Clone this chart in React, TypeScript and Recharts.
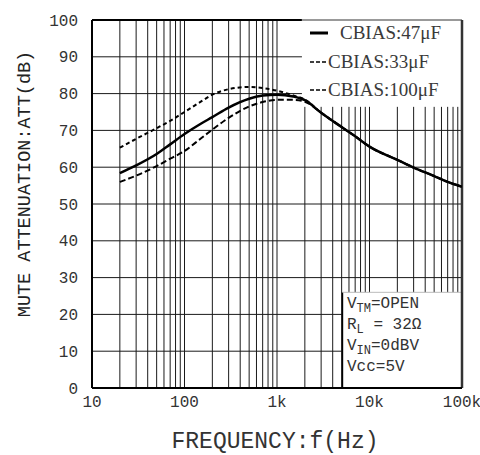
import React from 'react';
import { LineChart, Line, XAxis, YAxis, ReferenceLine } from 'recharts';

// frequency points (Hz)
const freqHz = [
  20, 30, 50, 70, 100, 150, 200, 300, 500, 700, 1000, 1500, 2000, 3000, 5000, 7000, 10000,
  20000, 30000, 50000, 70000, 100000,
];

// mute attenuation (dB) per bias capacitor
const att47 = [
  58.4, 60.5, 63.6, 66.2, 69, 71.8, 73.6, 76.2, 78.6, 79.5, 79.7, 79.2, 78.2, 74.8, 70.9, 68.4,
  65.6, 62, 59.9, 57.6, 56, 54.7,
];
const att33 = [
  56, 57.7, 60.3, 62.3, 64.4, 67.8, 70.2, 73.4, 76.5, 77.7, 78.3, 78.3, 77.8, 74.8, 70.9, 68.4,
  65.6, 62, 59.9, 57.6, 56, 54.7,
];
const att100 = [
  65.3, 67.7, 70.6, 72.6, 75, 77.8, 79.7, 81.2, 81.8, 81.5, 80.8, 79.5, 78.4, 74.8, 70.9, 68.4,
  65.6, 62, 59.9, 57.6, 56, 54.7,
];

const xTicks = [10, 100, 1000, 10000, 100000];
const xTickLabels = ['10', '100', '1k', '10k', '100k'];
const yTicks = [0, 10, 20, 30, 40, 50, 60, 70, 80, 90, 100];
const gridMultipliers = [1, 2, 3, 4, 5, 6, 7, 8, 9];
const gridDecades = [10, 100, 1000, 10000];

const toPoints = (vals: number[]) => freqHz.map((f, i) => ({ f, att: vals[i] }));

const series = [
  { name: 'CBIAS:47μF', data: toPoints(att47), dash: undefined, width: 2.5 },
  { name: 'CBIAS:33μF', data: toPoints(att33), dash: '6 3', width: 2 },
  { name: 'CBIAS:100μF', data: toPoints(att100), dash: '4 3', width: 2 },
];

const mono = '"Liberation Mono", "DejaVu Sans Mono", monospace';
const serif = '"Liberation Serif", "DejaVu Serif", serif';

// grid is blanked under the legend (top right) and the conditions box (bottom right)
const legendBox = { fMin: 1860, yMin: 76.4 };
const condBox = { fMin: 5100, yMax: 26 };

const vGrid = gridDecades.flatMap((d) => gridMultipliers.map((m) => d * m)).filter((v) => v > 10);

const vSegment = (f: number) => {
  const top = f > legendBox.fMin ? legendBox.yMin : 100;
  const bottom = f > condBox.fMin ? condBox.yMax : 0;
  return [
    { x: f, y: bottom },
    { x: f, y: top },
  ];
};
const hSegment = (y: number) => {
  let right = 100000;
  if (y > legendBox.yMin) right = legendBox.fMin;
  if (y < condBox.yMax) right = condBox.fMin;
  return [
    { x: 10, y },
    { x: right, y },
  ];
};

const Sub = ({ children }: { children: React.ReactNode }) => (
  <span style={{ fontSize: 12, position: 'relative', top: 4 }}>{children}</span>
);

export default function App() {
  const labelFor = (v: number) => xTickLabels[xTicks.indexOf(v)] ?? '';

  return (
    <div style={{ position: 'absolute', left: 0, top: 0, width: 480, height: 455, background: '#fff' }}>
      <LineChart width={480} height={455} margin={{ top: 20, right: 18, left: 0, bottom: 37 }}>
        <XAxis
          dataKey="f"
          type="number"
          scale="log"
          domain={[10, 100000]}
          ticks={xTicks}
          tickFormatter={labelFor}
          allowDataOverflow
          height={30}
          tickLine={false}
          tickSize={0}
          tickMargin={8}
          axisLine={{ stroke: '#000', strokeWidth: 2 }}
          tick={{ fontSize: 16, fontFamily: mono, fill: '#333' }}
        />
        <YAxis
          type="number"
          domain={[0, 100]}
          ticks={yTicks}
          width={92}
          tickLine={false}
          tickSize={0}
          tickMargin={14}
          axisLine={{ stroke: '#000', strokeWidth: 2 }}
          tick={{ fontSize: 16, fontFamily: mono, fill: '#333' }}
        />
        {vGrid.map((v) => (
          <ReferenceLine key={'v' + v} segment={vSegment(v)} stroke="#1a1a1a" strokeWidth={1} />
        ))}
        {yTicks.slice(1, 10).map((v) => (
          <ReferenceLine key={'h' + v} segment={hSegment(v)} stroke="#1a1a1a" strokeWidth={1} />
        ))}
        {/* conditions box edges */}
        <ReferenceLine
          segment={[
            { x: condBox.fMin, y: 0 },
            { x: condBox.fMin, y: condBox.yMax },
          ]}
          stroke="#000"
          strokeWidth={1.5}
        />
        <ReferenceLine
          segment={[
            { x: condBox.fMin, y: condBox.yMax },
            { x: 100000, y: condBox.yMax },
          ]}
          stroke="#bbb"
          strokeWidth={1}
        />
        <ReferenceLine
          segment={[
            { x: 10, y: 100 },
            { x: legendBox.fMin, y: 100 },
          ]}
          stroke="#000"
          strokeWidth={2}
        />
        <ReferenceLine
          segment={[
            { x: legendBox.fMin, y: 100 },
            { x: 100000, y: 100 },
          ]}
          stroke="#999"
          strokeWidth={2}
        />
        <ReferenceLine x={100000} stroke="#333" strokeWidth={2.5} />
        {series.map((s) => (
          <Line
            key={s.name}
            data={s.data}
            dataKey="att"
            type="monotone"
            stroke="#000"
            strokeWidth={s.width}
            strokeDasharray={s.dash}
            dot={false}
            isAnimationActive={false}
          />
        ))}
      </LineChart>

      {/* legend */}
      <div style={{ position: 'absolute', left: 306, top: 19, fontFamily: serif, fontSize: 19, color: '#3a3a3a' }}>
        {series.map((s, i) => (
          <div key={s.name} style={{ display: 'flex', alignItems: 'center', height: 28.5 }}>
            <svg width={i === 0 ? 34 : 22} height={10}>
              <line
                x1={4}
                x2={22}
                y1={5}
                y2={5}
                stroke="#000"
                strokeWidth={i === 0 ? 3 : 1.5}
                strokeDasharray={i === 0 ? undefined : '4 2'}
              />
            </svg>
            <span>{s.name}</span>
          </div>
        ))}
      </div>

      {/* test conditions */}
      <div style={{ position: 'absolute', left: 347, top: 294, fontFamily: mono, fontSize: 16, color: '#333' }}>
        <div style={{ height: 21, lineHeight: '21px' }}>
          V<Sub>TM</Sub>=OPEN
        </div>
        <div style={{ height: 21, lineHeight: '21px' }}>
          R<Sub>L</Sub> = 32Ω
        </div>
        <div style={{ height: 21, lineHeight: '21px' }}>
          V<Sub>IN</Sub>=0dBV
        </div>
        <div style={{ height: 21, lineHeight: '21px' }}>Vcc=5V</div>
      </div>

      {/* axis titles */}
      <div
        style={{
          position: 'absolute',
          left: 25,
          top: 184,
          transform: 'translate(-50%, -50%) rotate(-90deg)',
          whiteSpace: 'nowrap',
          fontFamily: mono,
          fontSize: 18.5,
          color: '#222',
        }}
      >
        MUTE ATTENUATION:ATT(dB)
      </div>
      <div
        style={{
          position: 'absolute',
          left: 275,
          top: 442,
          transform: 'translate(-50%, -50%)',
          whiteSpace: 'nowrap',
          fontFamily: mono,
          fontSize: 23,
          color: '#333',
        }}
      >
        FREQUENCY:f(Hz)
      </div>
    </div>
  );
}
